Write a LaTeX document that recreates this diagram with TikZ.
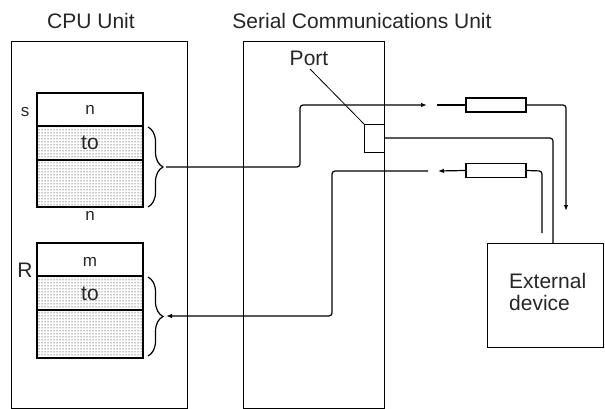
\documentclass[tikz,border=0pt]{standalone}
\usepackage{fontspec}
\setmainfont{Liberation Sans}
\usetikzlibrary{patterns,arrows.meta,decorations.pathreplacing}
\begin{document}
\begin{tikzpicture}[x=1pt,y=-1pt,
  every node/.style={text=black!85},
  unitbox/.style={draw,line width=1.3pt,anchor=north west,inner sep=0pt},
  cellrow/.style={line width=1.3pt},
  dotrow/.style={cellrow,pattern=dots,pattern color=black},
  wire/.style={line width=1.2pt,rounded corners=3pt},
  arr/.style={-{Latex[length=6pt,width=4.5pt]}},
  big/.style={font=\fontsize{21}{21.5}\selectfont,inner sep=0pt},
  small/.style={font=\fontsize{17}{19}\selectfont,inner sep=0pt},
  res/.style={draw,line width=1.2pt,minimum width=60pt,minimum height=14pt,inner sep=0pt},
  brc/.style={decorate,decoration={brace,amplitude=15pt},line width=1.2pt}
]
\useasboundingbox (0,0) rectangle (605,409);

% labels on top
\node[big] (cpulabel) at (91,21) {CPU Unit};
\node[big] (sculabel) at (362,21) {Serial Communications Unit};

% unit boxes
\node[unitbox,minimum width=176pt,minimum height=367pt] (cpu) at (11,41) {};
\node[unitbox,minimum width=141pt,minimum height=367pt] (scu) at (243,41) {};

% S block
\filldraw[dotrow] (37,126) rectangle (143,207);
\draw[cellrow] (37,93) rectangle (143,126);
\draw[cellrow] (37,160) -- (143,160);
\node[small] (sl) at (25,112) {s};
\node[small] (sn) at (90,110) {n};
\node[big] (sto) at (90,143) {to};
\node[small] (sn2) at (90,216) {n};
\draw[brc] (148,127) -- (148,207);
\coordinate (sbr) at (166,167);

% R block
\filldraw[dotrow] (37,276) rectangle (143,358);
\draw[cellrow] (37,243) rectangle (143,276);
\draw[cellrow] (37,310) -- (143,310);
\node[big] (rl) at (25,270) {R};
\node[small] (rm) at (90,262) {m};
\node[big] (rto) at (90,294) {to};
\draw[brc] (148,277) -- (148,356);
\coordinate (rbr) at (166,316);

% port
\node[unitbox,minimum width=20pt,minimum height=28pt] (port) at (364,124) {};
\node[big] (portlabel) at (309,58) {Port};
\draw[line width=0.8pt] (310,69) -- (port.north west);

% resistors
\node[res] (r1) at (496,105) {};
\node[res] (r2) at (496,170.5) {};

% external device
\node[unitbox,minimum width=116pt,minimum height=104pt] (dev) at (487,243) {};
\node[anchor=west,align=left,font=\fontsize{21}{21.5}\selectfont,inner sep=0pt] (devlabel) at (509,292) {External\\device};

% send path
\coordinate (g1) at (427,105);
\coordinate (g2) at (437,105);
\draw[wire,arr] (sbr) -- (300,167) -- (300,105) -- (g1);
\draw[wire] (g2) -- (r1.west);
\coordinate (d1) at (566,211);
\draw[wire,arr] (r1.east) -- (566,105) -- (d1);

% port to device
\draw[wire] (384,138) -- (553,138) -- (553,243);

% receive path
\coordinate (d2) at (542,233);
\coordinate (g3) at (438,171);
\coordinate (g4) at (428,171);
\draw[wire] (d2) -- (542,171) -- (r2.east);
\draw[wire,arr] (r2.west) -- (g3);
\draw[wire,arr] (g4) -- (332,171) -- (332,316) -- (rbr);
\end{tikzpicture}
\end{document}
